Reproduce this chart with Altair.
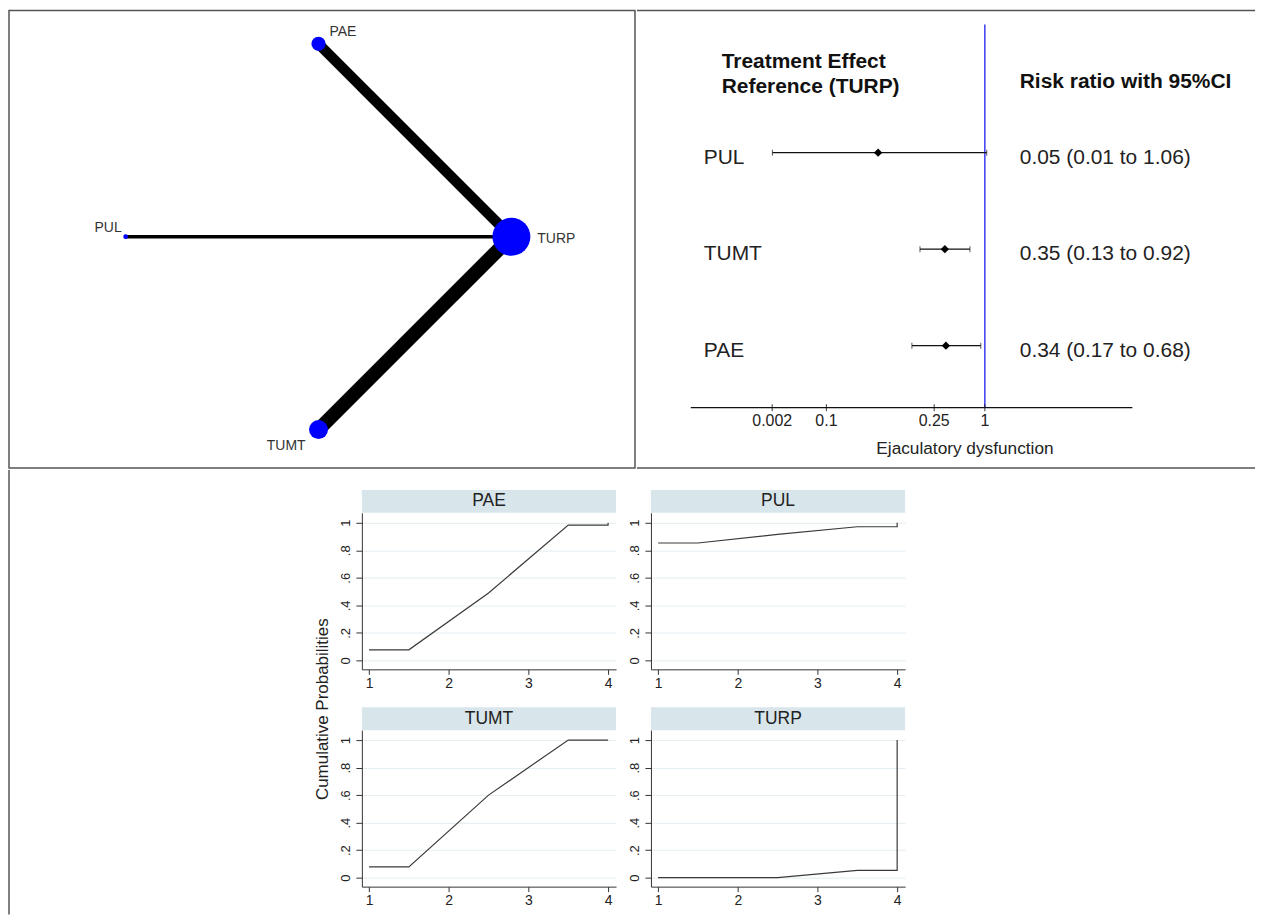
import altair as alt
import pandas as pd

FONT = "Liberation Sans"
BORDER = "#555555"
BLUE = "#3c3cf2"
STRIP = "#d8e5ea"
GRID = "#e4edf1"

# ---------------- network plot data ----------------
NODES = ["PAE", "PUL", "TURP", "TUMT"]
NODE_X = [0, -1, 1, 0]          # circular layout
NODE_Y = [1, 0, 0, -1]
NODE_WEIGHT = [3, 1, 8, 4]
EDGE_FROM = ["PAE", "PUL", "TUMT"]
EDGE_TO = ["TURP", "TURP", "TURP"]
EDGE_STUDIES = [3, 1, 4]

# ---------------- forest plot data ----------------
FOREST_TX = ["PUL", "TUMT", "PAE"]
FOREST_TEXT = ["0.05 (0.01 to 1.06)", "0.35 (0.13 to 0.92)", "0.34 (0.17 to 0.68)"]
FOREST_EST = [49.8, 81.2, 81.7]        # positions on the drawn axis
FOREST_LO = [0.1, 69.5, 65.7]
FOREST_HI = [100.9, 93.0, 98.1]
AXIS_TICK_POS = [0, 25.5, 76.2, 100]
AXIS_TICK_LABELS = ["0.002", "0.1", "0.25", "1"]
AXIS_EXTENT = [-38.3, 169.4]
REF_POS = [100]

# ---------------- cumulative rank plot data ----------------
RANK_X = [1, 1.5, 2.5, 3.5, 4, 4]
CUM = {
    "PAE": [0.077, 0.077, 0.49, 0.983, 0.983, 1.0],
    "PUL": [0.853, 0.853, 0.915, 0.971, 0.971, 1.0],
    "TUMT": [0.079, 0.079, 0.60, 1.0, 1.0, 1.0],
    "TURP": [0.0, 0.0, 0.0, 0.053, 0.053, 1.0],
}
X_TICKS = [1, 2, 3, 4]
Y_TICKS = [0, 0.2, 0.4, 0.6, 0.8, 1]
Y_TICK_LABELS = ["0", ".2", ".4", ".6", ".8", "1"]

one = pd.DataFrame({"a": [0]})

# ================= network panel =================
NW, NH = 628, 459
nodes = pd.DataFrame({"node": NODES, "x": NODE_X, "y": NODE_Y, "w": NODE_WEIGHT})
pos = {n: (x, y) for n, x, y in zip(NODES, NODE_X, NODE_Y)}
edges = pd.DataFrame({
    "x1": [pos[a][0] for a in EDGE_FROM], "y1": [pos[a][1] for a in EDGE_FROM],
    "x2": [pos[b][0] for b in EDGE_TO], "y2": [pos[b][1] for b in EDGE_TO],
    "studies": EDGE_STUDIES,
})
nx = alt.Scale(domain=[-1.6047, 1.6408], nice=False, zero=False)
ny = alt.Scale(domain=[-1.199, 1.1731], nice=False, zero=False)

edge_layer = alt.Chart(edges).mark_rule(color="black").encode(
    x=alt.X("x1:Q", scale=nx, axis=None),
    y=alt.Y("y1:Q", scale=ny, axis=None),
    x2="x2:Q", y2="y2:Q",
    strokeWidth=alt.StrokeWidth("studies:Q", scale=alt.Scale(domain=[0, 4], range=[0, 14]), legend=None),
)
node_layer = alt.Chart(nodes).mark_circle(color="#0000ff", opacity=1).encode(
    x=alt.X("x:Q", scale=nx, axis=None),
    y=alt.Y("y:Q", scale=ny, axis=None),
    size=alt.Size("w:Q", scale=alt.Scale(type="pow", exponent=2, domain=[0, 8], range=[0, 1452]), legend=None),
)
label_specs = {
    "PAE": dict(align="left", dx=11, dy=-12),
    "PUL": dict(align="right", dx=-4, dy=-9),
    "TURP": dict(align="left", dx=26, dy=2),
    "TUMT": dict(align="right", dx=-13, dy=16),
}
label_layers = []
for n, spec in label_specs.items():
    label_layers.append(
        alt.Chart(nodes).transform_filter(alt.datum.node == n).mark_text(
            fontSize=14, color="#333333", baseline="middle", **spec
        ).encode(
            x=alt.X("x:Q", scale=nx, axis=None),
            y=alt.Y("y:Q", scale=ny, axis=None),
            text="node:N",
        )
    )
network = alt.layer(edge_layer, node_layer, *label_layers).properties(
    width=NW, height=NH, view=alt.ViewBackground(stroke=BORDER, strokeWidth=1.5)
)

# ================= forest panel =================
FW, FH = 620, 459
AXIS_Y = 398.5
fdf = pd.DataFrame({
    "tx": FOREST_TX, "row": [1, 2, 3], "est": FOREST_EST,
    "lo": FOREST_LO, "hi": FOREST_HI, "txt": FOREST_TEXT,
})
ticks = pd.DataFrame({"pos": AXIS_TICK_POS, "label": AXIS_TICK_LABELS})
# keep 2.133 px per unit while the panel is 620 px wide
fx = alt.Scale(domain=[-63.6, -63.6 + FW / 2.133], nice=False, zero=False)
fy = alt.Scale(domain=[-0.474, 4.268], nice=False, zero=False, reverse=True)


def FX(f):
    return alt.X(f, scale=fx, axis=None)


def FY(f):
    return alt.Y(f, scale=fy, axis=None)


frame_top = alt.Chart(one).mark_rule(color=BORDER, strokeWidth=1.5).encode(
    x=alt.value(0), x2=alt.value(FW), y=alt.value(0)
)
frame_bottom = alt.Chart(one).mark_rule(color=BORDER, strokeWidth=1.5).encode(
    x=alt.value(0), x2=alt.value(FW), y=alt.value(FH)
)
ref_line = alt.Chart(pd.DataFrame({"p": REF_POS})).mark_rule(color=BLUE, strokeWidth=1.5).encode(
    x=FX("p:Q"), y=alt.value(14), y2=alt.value(AXIS_Y)
)
axis_line = alt.Chart(pd.DataFrame({"a": [AXIS_EXTENT[0]], "b": [AXIS_EXTENT[1]]})).mark_rule(
    color="#111111", strokeWidth=1.2
).encode(x=FX("a:Q"), x2="b:Q", y=alt.value(AXIS_Y))
axis_ticks = alt.Chart(ticks).mark_tick(orient="vertical", size=7, thickness=1.2, color="#111111").encode(
    x=FX("pos:Q"), y=alt.value(AXIS_Y)
)
axis_labels = alt.Chart(ticks).mark_text(fontSize=16, color="#222222", baseline="middle").encode(
    x=FX("pos:Q"), y=alt.value(412), text="label:N"
)
axis_title = alt.Chart(one).mark_text(fontSize=17.3, color="#222222", baseline="middle").encode(
    x=alt.value(329), y=alt.value(440), text=alt.value("Ejaculatory dysfunction")
)
ci = alt.Chart(fdf).mark_rule(color="#111111", strokeWidth=1.2).encode(
    x=FX("lo:Q"), x2="hi:Q", y=FY("row:Q")
)
ci_lo = alt.Chart(fdf).mark_tick(orient="vertical", size=6, thickness=1, color="#111111").encode(
    x=FX("lo:Q"), y=FY("row:Q")
)
ci_hi = alt.Chart(fdf).mark_tick(orient="vertical", size=6, thickness=1, color="#111111").encode(
    x=FX("hi:Q"), y=FY("row:Q")
)
est = alt.Chart(fdf).mark_point(shape="diamond", filled=True, size=70, color="black", opacity=1).encode(
    x=FX("est:Q"), y=FY("row:Q")
)
row_labels = alt.Chart(fdf).mark_text(align="left", fontSize=21, color="#222222", dy=5).encode(
    x=alt.value(67), y=FY("row:Q"), text="tx:N"
)
row_values = alt.Chart(fdf).mark_text(align="left", fontSize=21, color="#222222", dy=5).encode(
    x=alt.value(384), y=FY("row:Q"), text="txt:N"
)
h1 = alt.Chart(one).mark_text(align="left", fontSize=21, fontWeight="bold", color="#111111").encode(
    x=alt.value(85), y=alt.value(52), text=alt.value("Treatment Effect")
)
h2 = alt.Chart(one).mark_text(align="left", fontSize=21, fontWeight="bold", color="#111111").encode(
    x=alt.value(85), y=alt.value(77), text=alt.value("Reference (TURP)")
)
h3 = alt.Chart(one).mark_text(align="left", fontSize=21, fontWeight="bold", color="#111111").encode(
    x=alt.value(384), y=alt.value(72), text=alt.value("Risk ratio with 95%CI")
)
forest = alt.layer(
    frame_top, frame_bottom, ref_line, axis_line, axis_ticks, axis_labels, axis_title,
    ci, ci_lo, ci_hi, est, row_labels, row_values, h1, h2, h3
).properties(width=FW, height=FH, view=alt.ViewBackground(stroke=None))

top_row = alt.hconcat(network, forest, spacing=0)

# ================= cumulative rank panels =================
PW, PH, HH = 255, 157, 23
y_label_expr = "[" + ",".join("'%s'" % s for s in Y_TICK_LABELS) + "][round(datum.value*5)]"


def panel(name):
    vals = CUM[name]
    df = pd.DataFrame({"rank": RANK_X, "cum": vals, "i": list(range(len(vals)))})
    header = alt.Chart(pd.DataFrame({"tx": [name]})).mark_text(
        fontSize=17.5, color="#222222", baseline="middle"
    ).encode(
        x=alt.value(PW / 2), y=alt.value(HH / 2), text="tx:N"
    ).properties(width=PW, height=HH, view=alt.ViewBackground(fill=STRIP, stroke=None))
    plot = alt.Chart(df).mark_line(color="#3a3a3a", strokeWidth=1.2).encode(
        x=alt.X("rank:Q", scale=alt.Scale(domain=[0.91, 4.1], nice=False, zero=False),
                axis=alt.Axis(values=X_TICKS, format="d", title=None, grid=False,
                              tickSize=5, tickColor="#333333", domainColor="#333333",
                              labelFontSize=14, labelColor="#222222", labelFlush=False,
                              labelPadding=2)),
        y=alt.Y("cum:Q", scale=alt.Scale(domain=[-0.065, 1.072], nice=False, zero=False),
                axis=alt.Axis(values=Y_TICKS, labelExpr=y_label_expr, title=None, grid=True,
                              gridColor=GRID, gridWidth=1, tickSize=6, tickColor="#333333",
                              domainColor="#333333", labelAngle=270, labelFontSize=13,
                              labelColor="#222222", labelFlush=False, labelPadding=3)),
        order="i:Q",
    ).properties(width=PW, height=PH, view=alt.ViewBackground(stroke=None))
    return alt.vconcat(header, plot, spacing=0)


grid_rows = alt.vconcat(
    alt.hconcat(panel("PAE"), panel("PUL"), spacing=12),
    alt.hconcat(panel("TUMT"), panel("TURP"), spacing=12),
    spacing=17,
)
top_spacer = alt.Chart(one).mark_text(text="").encode(x=alt.value(0)).properties(
    width=10, height=20, view=alt.ViewBackground(stroke=None)
)
grid = alt.vconcat(top_spacer, grid_rows, spacing=0)

BH = 446
left = alt.layer(
    alt.Chart(one).mark_rule(color=BORDER, strokeWidth=1.5).encode(
        x=alt.value(0), y=alt.value(0), y2=alt.value(BH)
    ),
    alt.Chart(one).mark_text(angle=270, fontSize=17, color="#222222", baseline="middle").encode(
        x=alt.value(315), y=alt.value(240), text=alt.value("Cumulative  Probabilities")
    ),
).properties(width=331, height=BH, view=alt.ViewBackground(stroke=None))

bottom_row = alt.hconcat(left, grid, spacing=0)

chart = alt.vconcat(top_row, bottom_row, spacing=0).properties(padding=0).configure(
    font=FONT
).configure_view(stroke=None)

chart.save("out.html", embed_options={"renderer": "svg", "actions": False})
